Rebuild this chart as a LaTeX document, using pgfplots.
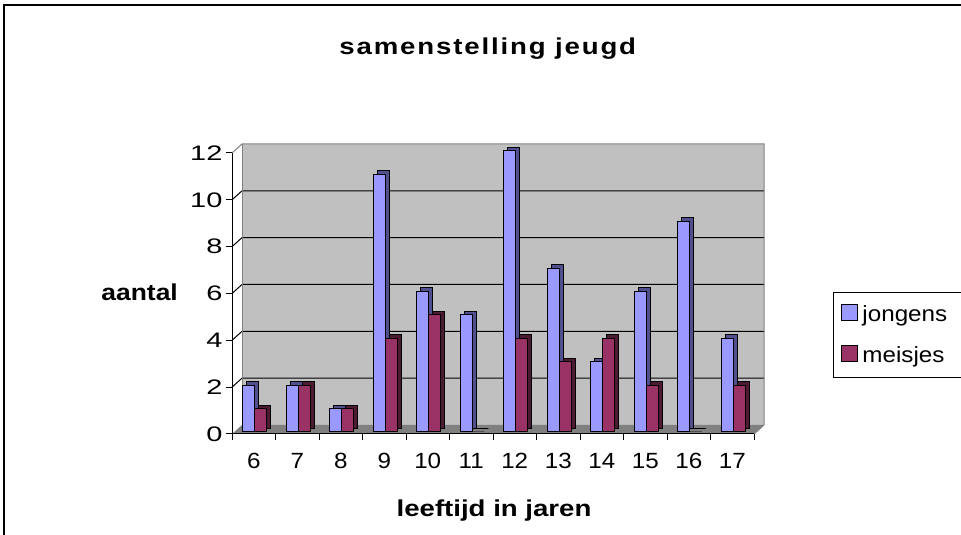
\documentclass[border=0pt]{standalone}
\usepackage{pgfplots}
\pgfplotsset{compat=1.18}
\usepackage{fontspec}
\setmainfont{Liberation Sans}
\newfontfamily\yfont{Liberation Sans}[FakeStretch=1.38]
\newfontfamily\xfont{Liberation Sans}[FakeStretch=1.1]
\newfontfamily\legfont{Liberation Sans}[FakeStretch=1.1]
\newfontfamily\titfont{Liberation Sans}[FakeStretch=1.2, LetterSpace=8]
\newfontfamily\ylabfont{Liberation Sans}[FakeStretch=1.15]
\newfontfamily\xlabfont{Liberation Sans}[FakeStretch=1.2]
\definecolor{bfront}{HTML}{9999FF}
\definecolor{bside}{HTML}{50508F}
\definecolor{pfront}{HTML}{993366}
\definecolor{pside}{HTML}{4D1A33}
\definecolor{wall}{HTML}{C0C0C0}
\definecolor{floorc}{HTML}{808080}
\begin{document}
\begin{tikzpicture}
\useasboundingbox (0pt,0pt) rectangle (961pt,535pt);
\fill[white] (0pt,0pt) rectangle (961pt,535pt);
\draw[line width=1.5pt] (4pt,-5pt) -- (4pt,530pt) -- (975pt,530pt);
% back wall and floor
\fill[wall] (242pt,110pt) rectangle (764pt,391pt);
\fill[floorc] (232pt,101pt) -- (754pt,101pt) -- (764pt,110pt) -- (242pt,110pt) -- cycle;
\foreach \k in {1,...,5}{
  \pgfmathsetmacro\ya{101+\k*46.8333}
  \pgfmathsetmacro\yb{110+\k*46.8333}
  \draw[line width=1pt] (232pt,\ya pt) -- (242pt,\yb pt) -- (764pt,\yb pt);
}
\draw[floorc, line width=1pt] (232pt,382pt) -- (242pt,391pt) -- (764pt,391pt) -- (764pt,110pt) -- (754pt,101pt);
\draw[floorc, line width=1pt] (242pt,110pt) -- (242pt,391pt);
\begin{axis}[
  at={(232pt,101pt)}, anchor=south west,
  width=522pt, height=281pt, scale only axis,
  xmin=-0.5, xmax=11.5, ymin=0, ymax=12,
  clip=false,
  axis lines=left, axis line style={-, line width=1pt, black},
  xtick={0,...,11}, xticklabels={6,7,8,9,10,11,12,13,14,15,16,17},
  major x tick style={draw=none},
  minor xtick={-0.5,0.5,...,11.5},
  minor x tick style={draw=black, line width=1pt},
  minor tick length=6pt,
  ytick={0,2,...,12},
  major tick length=6pt, tick align=outside,
  major y tick style={draw=black, line width=1pt},
  /pgf/number format/assume math mode=true,
  yticklabel style={font=\yfont\fontsize{21}{24}\selectfont},
  xticklabel style={font=\xfont\fontsize{22}{26}\selectfont, yshift=-10pt},
  title={samenstelling jeugd},
  every axis title/.style={at={(0.490,1.352)}, anchor=base, font=\titfont\bfseries\fontsize{23}{27}\selectfont},
  xlabel={leeftijd in jaren},
  every axis x label/.style={at={(0.502,-0.295)}, anchor=base, font=\xlabfont\bfseries\fontsize{23}{27}\selectfont},
  ylabel={aantal},
  every axis y label/.style={at={(-0.177,0.474)}, anchor=base, font=\ylabfont\bfseries\fontsize{23}{27}\selectfont},
  legend image code/.code={\draw[#1,draw=black,line width=1pt] (0pt,-8pt) rectangle (16pt,8pt);},
  legend style={at={(1.1513,0.5053)}, anchor=north west, draw=black, line width=1pt,
    font=\legfont\fontsize{22}{26}\selectfont, inner xsep=8pt, inner ysep=11pt, row sep=20pt,
    cells={anchor=west},
    /tikz/every odd column/.append style={column sep=2pt}},
]
\addplot[ybar, bar width=12pt, bar shift=-5pt, xshift=4pt, yshift=5.5pt, fill=bside, draw=black, line width=1pt, forget plot]
  coordinates {(0,2)(1,2)(2,1)(3,11)(4,6)(5,5)(6,12)(7,7)(8,3)(9,6)(10,9)(11,4)};
\addplot[ybar, bar width=12pt, bar shift=-5pt, yshift=2pt, fill=bfront, draw=black, line width=1pt]
  coordinates {(0,2)(1,2)(2,1)(3,11)(4,6)(5,5)(6,12)(7,7)(8,3)(9,6)(10,9)(11,4)};
\addlegendentry{\makebox[105pt][l]{jongens}}
\addplot[ybar, bar width=12pt, bar shift=7pt, xshift=4pt, yshift=5.5pt, fill=pside, draw=black, line width=1pt, forget plot]
  coordinates {(0,1)(1,2)(2,1)(3,4)(4,5)(5,0)(6,4)(7,3)(8,4)(9,2)(10,0)(11,2)};
\addplot[ybar, bar width=12pt, bar shift=7pt, yshift=2pt, fill=pfront, draw=black, line width=1pt]
  coordinates {(0,1)(1,2)(2,1)(3,4)(4,5)(5,0)(6,4)(7,3)(8,4)(9,2)(10,0)(11,2)};
\addlegendentry{\makebox[105pt][l]{meisjes}}
\end{axis}
\end{tikzpicture}
\end{document}
